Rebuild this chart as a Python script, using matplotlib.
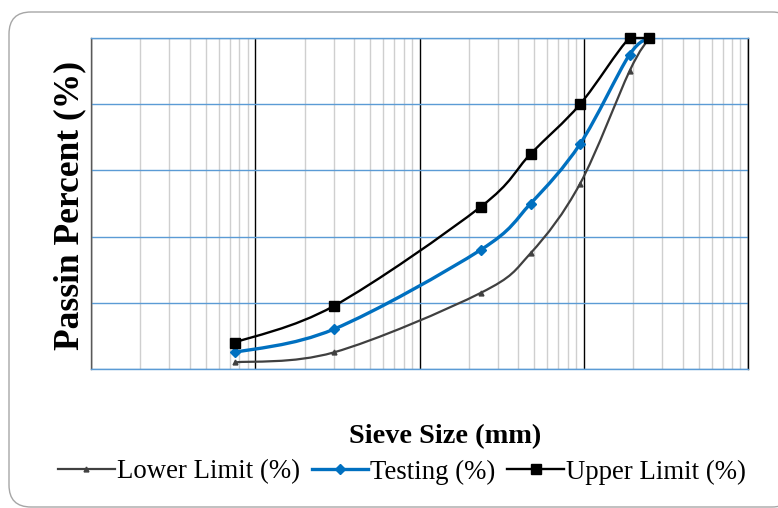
import numpy as np
import matplotlib
matplotlib.use('Agg')
import matplotlib.pyplot as plt
from matplotlib.path import Path
from matplotlib.patches import PathPatch, FancyBboxPatch
from matplotlib.lines import Line2D

sieve = [0.075, 0.3, 2.36, 4.75, 9.5, 19, 25]
lower = [2, 5, 23, 35, 56, 90, 100]
testing = [5, 12, 36, 50, 68, 95, 100]
upper = [8, 19, 49, 65, 80, 100, 100]
names = ['Lower Limit (%)', 'Testing (%)', 'Upper Limit (%)']

plt.rcParams['font.family'] = ['Liberation Serif', 'DejaVu Serif']


def smooth_path(x, y):
    # excel-like smoothed line: bezier in (log x, y) space
    pts = np.column_stack([np.log10(x), np.asarray(y, float)])
    n = len(pts)
    verts, codes = [pts[0]], [Path.MOVETO]
    for i in range(n - 1):
        p0 = pts[i - 1] if i > 0 else pts[i]
        p1, p2 = pts[i], pts[i + 1]
        p3 = pts[i + 2] if i + 2 < n else pts[i + 1]
        verts += [p1 + (p2 - p0) / 6, p2 - (p3 - p1) / 6, p2]
        codes += [Path.CURVE4] * 3
    verts = np.array(verts)
    verts[:, 0] = 10 ** verts[:, 0]
    verts[:, 1] = np.minimum(verts[:, 1], 100)
    return Path(verts, codes)


fig = plt.figure(figsize=(7.78, 5.08), dpi=100)
fig.patches.append(FancyBboxPatch((0.09, 0.01), 7.85, 4.95,
                                  boxstyle='round,pad=0,rounding_size=0.22',
                                  transform=fig.dpi_scale_trans, facecolor='white',
                                  edgecolor='#A6A6A6', lw=1.0, zorder=-5))

ax = fig.add_axes([91 / 778, 1 - 369 / 508, (748 - 91) / 778, (369 - 38) / 508])
ax.set_xscale('log')
ax.set_xlim(0.01, 100)
ax.set_ylim(0, 100)
ax.set_yticks(range(0, 101, 20))
ax.set_axisbelow(True)
ax.grid(which='major', axis='y', color='#5B9BD5', lw=1.0)
ax.grid(which='major', axis='x', color='black', lw=1.0)
ax.grid(which='minor', axis='x', color='#CFCFCF', lw=1.0)
ax.tick_params(which='both', length=0, labelbottom=False, labelleft=False)
ax.spines['top'].set_color('#5B9BD5')
ax.spines['bottom'].set_color('#5B9BD5')
ax.spines['left'].set_color('#595959')
ax.spines['right'].set_color('black')
for s in ax.spines.values():
    s.set_linewidth(1.0)

styles = [
    (lower, '#404040', 1.6, '^', 3.5),
    (testing, '#0070C0', 2.4, 'D', 5.5),
    (upper, 'black', 1.7, 's', 6.5),
]
handles = []
for (vals, col, lw, mk, ms), nm in zip(styles, names):
    ax.add_patch(PathPatch(smooth_path(sieve, vals), fill=False, edgecolor=col,
                           lw=lw, zorder=3, clip_on=False))
    ax.plot(sieve, vals, ls='none', marker=mk, ms=ms, color=col, zorder=4, clip_on=False)
    handles.append(Line2D([], [], color=col, lw=lw, marker=mk, ms=ms))

fig.text(70 / 778, 1 - 206 / 508, 'Passin Percent (%)', rotation=90, ha='center',
         va='center', fontsize=25.5, fontweight='bold')
fig.text(445 / 778, 1 - 437 / 508, 'Sieve Size (mm)', ha='center', va='center',
         fontsize=20.4, fontweight='bold')
fig.legend(handles, names, loc='center', bbox_to_anchor=(402 / 778, 1 - 472 / 508),
           ncol=3, frameon=False, fontsize=19.3, handlelength=2.1, handletextpad=0.08,
           columnspacing=0.45, borderaxespad=0)

fig.savefig('out.png', dpi=100)
